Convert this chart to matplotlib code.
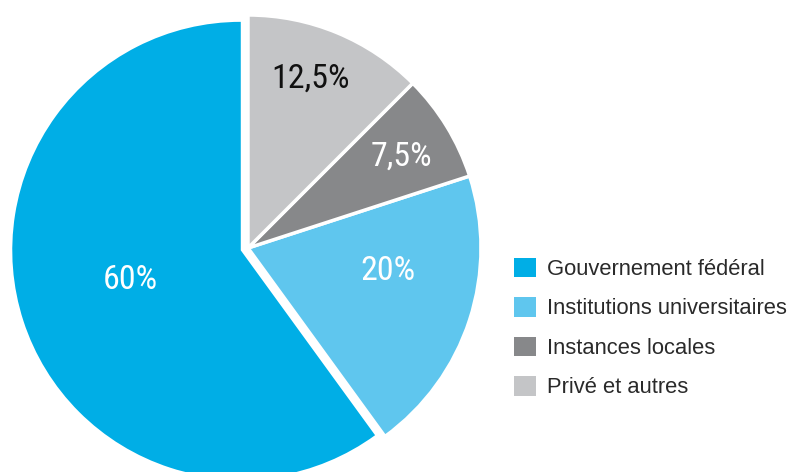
import numpy as np
import matplotlib
matplotlib.use('Agg')
import matplotlib.pyplot as plt
from matplotlib import font_manager

# Financement par source (%)
sources = ['Gouvernement fédéral', 'Institutions universitaires', 'Instances locales', 'Privé et autres']
parts = [60, 20, 7.5, 12.5]
colors = ['#00AEE6', '#5FC6EE', '#87888A', '#C4C5C7']
label_colors = ['white', 'white', 'white', '#111111']

# placement of the percent labels inside each wedge (fraction of radius, angle nudge in degrees)
label_r = [0.49, 0.61, 0.765, 0.775]
label_nudge = [-3, 8.5, -0.7, 2.1]


def narrow_font():
    # look for a condensed sans face for the percent labels
    cands = []
    for f in font_manager.fontManager.ttflist:
        n = (f.name + ' ' + f.fname).lower()
        if ('condensed' in n or 'narrow' in n or 'cond' in str(f.stretch)) \
                and 'mono' not in n and 'serif' not in n and 'bold' not in n and 'italic' not in n \
                and f.weight in (400, 'normal', 'regular') and f.style == 'normal':
            cands.append(f)
    if cands:
        cands.sort(key=lambda f: ('roboto' not in f.name.lower(), f.name))
        return font_manager.FontProperties(fname=cands[0].fname)
    return font_manager.FontProperties(family=['Roboto', 'DejaVu Sans'])


fig = plt.figure(figsize=(7.9, 4.72), dpi=100)
ax = fig.add_axes([0, 0, 1, 1])

# axes data units are pixels, so explode is given in pixels too
R = 233
cx, cy = 248, 224
wedges, _ = ax.pie(parts, colors=colors, startangle=90, counterclock=True,
                   explode=[7.6, 0, 0, 0], radius=R, center=(cx, cy),
                   wedgeprops=dict(edgecolor='white', linewidth=2.5))
# the large wedge carries no white rim
wedges[0].set_linewidth(0)
wedges[0].set_radius(228.5)

ax.set_xlim(0, 790)
ax.set_ylim(0, 472)
ax.set_aspect('equal')
ax.axis('off')

fp = narrow_font()
fp.set_size(24.5)
for w, v, r, dn, c in zip(wedges, parts, label_r, label_nudge, label_colors):
    mid = np.deg2rad((w.theta1 + w.theta2) / 2 + dn)
    x0, y0 = w.center
    txt = ('%g' % v).replace('.', ',') + '%'
    ax.text(x0 + r * R * np.cos(mid), y0 + r * R * np.sin(mid), txt,
            ha='center', va='center', color=c, fontproperties=fp)

leg = ax.legend(wedges, sources, loc='center left', bbox_to_anchor=(514, 144),
                bbox_transform=ax.transData, frameon=False, borderpad=0,
                borderaxespad=0, handlelength=1.0, handleheight=1.0,
                handletextpad=0.5, labelspacing=0.78,
                prop=dict(family=['Liberation Sans', 'DejaVu Sans'], size=15.8))
for t in leg.get_texts():
    t.set_color('#2a2a2a')
for h in leg.legend_handles:
    h.set_edgecolor('none')
    h.set_linewidth(0)

fig.savefig('out.png', dpi=100)
